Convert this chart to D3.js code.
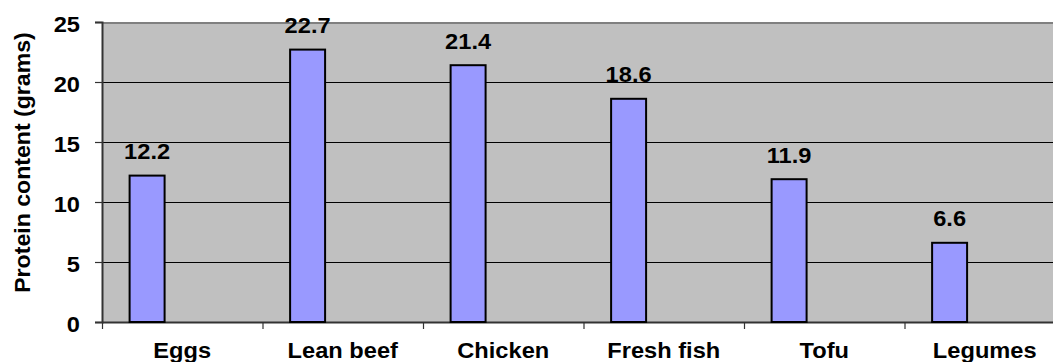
<!DOCTYPE html>
<html>
<head>
<meta charset="utf-8">
<script src="https://cdn.jsdelivr.net/npm/d3@7/dist/d3.min.js"></script>
<style>
  html, body { margin: 0; padding: 0; background: #fff; overflow: hidden; }
  svg { display: block; }
  text { font-family: "Liberation Sans", Arial, sans-serif; font-weight: bold; fill: #000; }
</style>
</head>
<body>
<svg id="chart" width="1053" height="362"></svg>
<script>
const categories = ["Eggs", "Lean beef", "Chicken", "Fresh fish", "Tofu", "Legumes"];
const values = [12.2, 22.7, 21.4, 18.6, 11.9, 6.6];
const yTicks = [0, 5, 10, 15, 20, 25];
const yTitle = "Protein content (grams)";

(function () {
const svg = d3.select("#chart");
const pLeft = 102, pRight = 1065, pTop = 22, pBottom = 322;
const SX = 1.075, FS = 22;

const x = d3.scaleBand().domain(categories).range([pLeft, pRight]).padding(0);
const y = d3.scaleLinear().domain([0, 25]).range([pBottom, pTop]);

svg.append("rect")
  .attr("x", pLeft).attr("y", y(25))
  .attr("width", pRight - pLeft).attr("height", y(0) - y(25))
  .attr("fill", "#c0c0c0");

svg.append("g").selectAll("line")
  .data(yTicks.filter(t => t > 0 && t < 25))
  .join("line")
  .attr("x1", pLeft).attr("x2", pRight)
  .attr("y1", d => y(d) + 0.5).attr("y2", d => y(d) + 0.5)
  .attr("stroke", "#000").attr("stroke-width", 1);

svg.append("line")
  .attr("x1", pLeft).attr("x2", pRight)
  .attr("y1", y(25) + 1).attr("y2", y(25) + 1)
  .attr("stroke", "#808080").attr("stroke-width", 2);

const yAxis = d3.axisLeft(y).tickValues(yTicks).tickSize(7).tickFormat("");
const gy = svg.append("g").attr("transform", `translate(${pLeft},0)`).call(yAxis);
gy.select(".domain").attr("stroke", "#333").attr("stroke-width", 2);
gy.selectAll(".tick line").attr("stroke", "#333").attr("stroke-width", 1.2);

svg.append("g").selectAll("text").data(yTicks).join("text")
  .attr("transform", d => `translate(80,${y(d) + 10}) scale(${SX},1)`)
  .attr("text-anchor", "end")
  .attr("font-size", FS)
  .text(d => d);

const xAxis = d3.axisBottom(x).tickSize(0).tickPadding(0).tickFormat("");
const gx = svg.append("g").attr("transform", `translate(0,${pBottom})`).call(xAxis);
gx.select(".domain").attr("stroke", "#333").attr("stroke-width", 2);
const bounds = categories.map(c => x(c)).concat([pRight]);
svg.append("g").selectAll("line").data(bounds).join("line")
  .attr("x1", d => d + 0.5).attr("x2", d => d + 0.5)
  .attr("y1", pBottom).attr("y2", pBottom + 7)
  .attr("stroke", "#333").attr("stroke-width", 1.2);

svg.append("g").selectAll("text").data(categories).join("text")
  .attr("transform", d => `translate(${x(d) + x.bandwidth() / 2},357.5) scale(${SX},1)`)
  .attr("text-anchor", "middle")
  .attr("font-size", FS)
  .text(d => d);

const bw = x.bandwidth();
const barOff = bw * 0.172, barW = bw * 0.218;
svg.append("g").selectAll("rect").data(values).join("rect")
  .attr("x", (d, i) => x(categories[i]) + barOff)
  .attr("y", d => y(d))
  .attr("width", barW)
  .attr("height", d => y(0) - y(d))
  .attr("fill", "#9999ff")
  .attr("stroke", "#000")
  .attr("stroke-width", 2);

svg.append("g").selectAll("text").data(values).join("text")
  .attr("transform", (d, i) => `translate(${x(categories[i]) + barOff + barW / 2},${y(d) - 16.5}) scale(${SX},1)`)
  .attr("text-anchor", "middle")
  .attr("font-size", FS)
  .text(d => d.toFixed(1));

svg.append("text")
  .attr("transform", `translate(30,162.5) rotate(-90) scale(${SX},1)`)
  .attr("text-anchor", "middle")
  .attr("font-size", 21.5)
  .text(yTitle);
})();
</script>
</body>
</html>
